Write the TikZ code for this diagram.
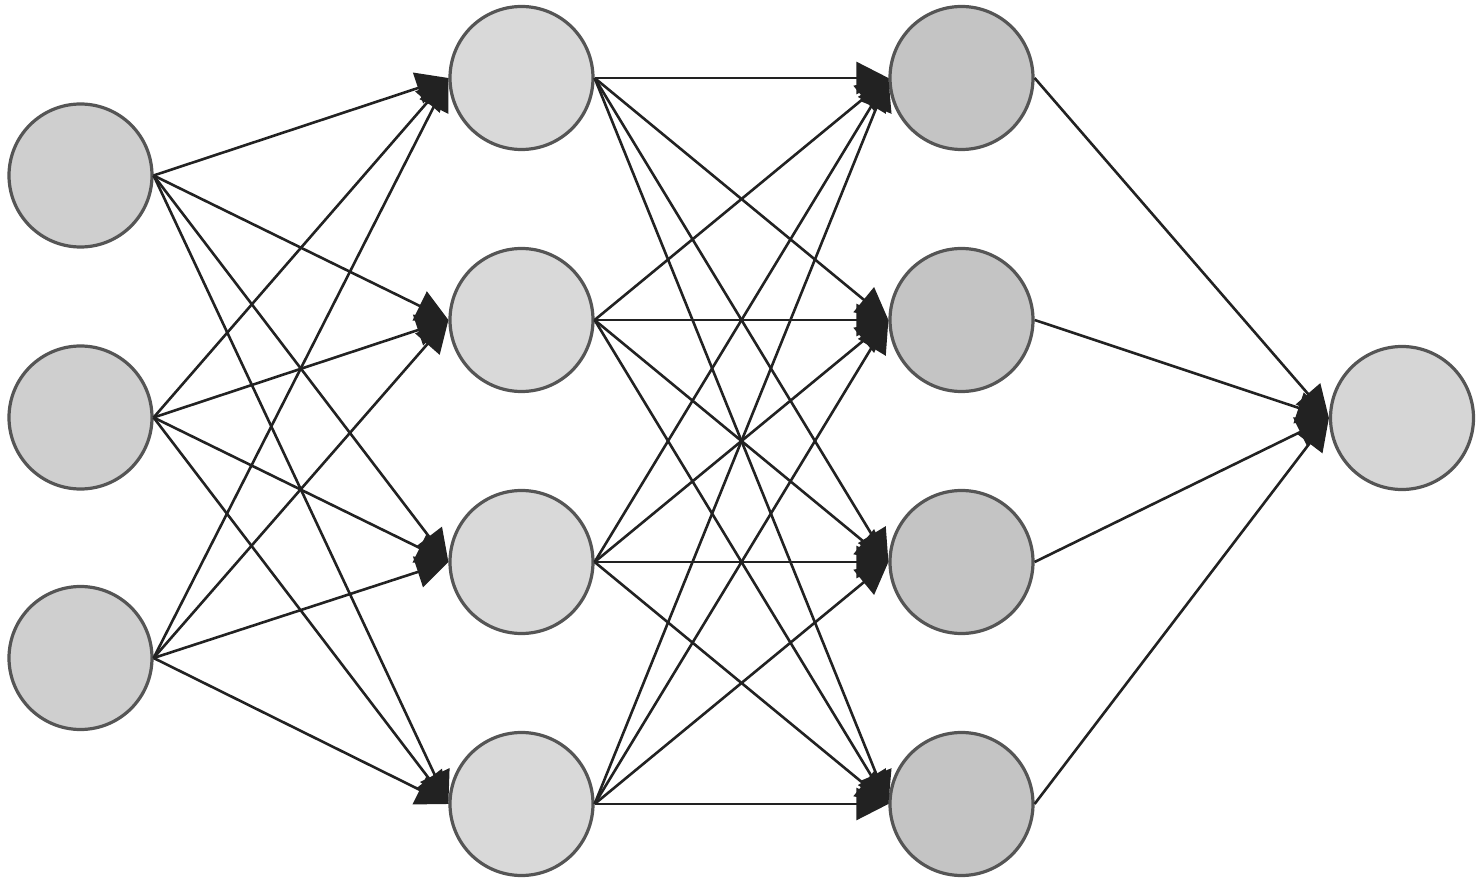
\documentclass[tikz,border=0pt]{standalone}
\usetikzlibrary{arrows.meta}
\definecolor{cin}{HTML}{CFCFCF}
\definecolor{chA}{HTML}{D9D9D9}
\definecolor{chB}{HTML}{C4C4C4}
\definecolor{cout}{HTML}{D6D6D6}
\definecolor{cborder}{HTML}{555555}
\definecolor{cedge}{HTML}{222222}
\tikzset{
  neuron/.style={circle, draw=cborder, line width=1.6pt, minimum size=71.5pt, inner sep=0pt},
  edge/.style={draw=cedge, line width=1.3pt},
  arr/.style={edge, -{Triangle[length=16pt,width=16pt]}}
}
\begin{document}
\begin{tikzpicture}[x=0.5pt,y=-0.5pt]
\useasboundingbox (0,0) rectangle (1484,886);
% input layer
\node[neuron, fill=cin] (i1) at (80.5,175.5) {};
\node[neuron, fill=cin] (i2) at (80.5,417.5) {};
\node[neuron, fill=cin] (i3) at (80.5,658) {};
% hidden layer 1
\node[neuron, fill=chA] (a1) at (521.5,78) {};
\node[neuron, fill=chA] (a2) at (521.5,320) {};
\node[neuron, fill=chA] (a3) at (521.5,562) {};
\node[neuron, fill=chA] (a4) at (521.5,804) {};
% hidden layer 2
\node[neuron, fill=chB] (b1) at (961.5,78) {};
\node[neuron, fill=chB] (b2) at (961.5,320) {};
\node[neuron, fill=chB] (b3) at (961.5,562) {};
\node[neuron, fill=chB] (b4) at (961.5,804) {};
% output
\node[neuron, fill=cout] (o) at (1402,418) {};
% edges
\foreach \s in {i1,i2,i3}{
  \foreach \t in {a1,a2,a3,a4}{
    \draw[arr] (\s.east) -- (\t.west);
  }
}
\foreach \s in {a1,a2,a3,a4}{
  \foreach \t in {b1,b2,b3,b4}{
    \draw[arr] (\s.east) -- (\t.west);
  }
}
\foreach \s in {b1,b2,b3,b4}{
  \draw[arr] (\s.east) -- (o.west);
}
\end{tikzpicture}
\end{document}
